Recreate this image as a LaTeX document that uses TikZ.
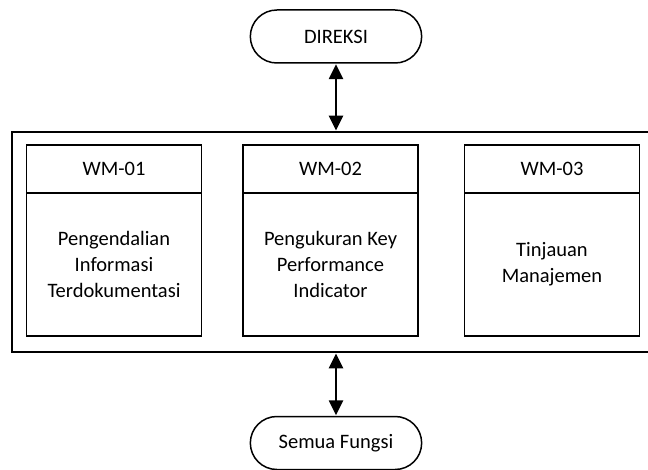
\documentclass[tikz,border=0pt]{standalone}
\usepackage{fontspec}
\setmainfont{Carlito}
\usetikzlibrary{shapes.misc,arrows.meta}
\tikzset{
  pill/.style={draw, line width=1.5pt, rounded rectangle, minimum width=178pt,
    minimum height=53pt, font=\fontsize{20.5}{24}\selectfont},
  frame/.style={draw, line width=1.8pt, minimum width=650pt, minimum height=220pt},
  headbox/.style={draw, line width=1.8pt, minimum width=175pt, minimum height=48pt,
    font=\fontsize{20.5}{24}\selectfont},
  bodybox/.style={draw, line width=1.8pt, minimum width=175pt, minimum height=143pt,
    align=center, font=\fontsize{20.5}{26}\selectfont},
  biarrow/.style={line width=2.6pt, {Triangle[length=15pt,width=14pt]}-{Triangle[length=15pt,width=14pt]}, shorten <=0.5pt, shorten >=0.5pt}
}
\begin{document}
\begin{tikzpicture}[x=1pt,y=-1pt]
  \useasboundingbox (0,0) rectangle (648,470);
  \clip (0,0) rectangle (648,470);
  \fill[white] (0,0) rectangle (648,470);

  % top and bottom terminals
  \node[pill] (dir) at (336,36.5) {DIREKSI};
  \node[pill] (all) at (336,443) {Semua Fungsi};

  % enclosing frame (its right edge lies past the page)
  \node[frame] (outer) at (337,242) {};

  % three work modules
  \node[headbox] (h1) at (114,169) {WM-01};
  \node[bodybox] (b1) at (114,264.5) {Pengendalian\\Informasi\\Terdokumentasi};
  \node[headbox] (h2) at (330.5,169) {WM-02};
  \node[bodybox] (b2) at (330.5,264.5) {Pengukuran Key\\Performance\\Indicator};
  \node[headbox] (h3) at (552,169) {WM-03};
  \node[bodybox] (b3) at (552,264.5) {Tinjauan\\Manajemen};

  % two-way links
  \draw[biarrow] (dir.south) -- (dir.south |- outer.north);
  \draw[biarrow] (all.north |- outer.south) -- (all.north);
\end{tikzpicture}
\end{document}
